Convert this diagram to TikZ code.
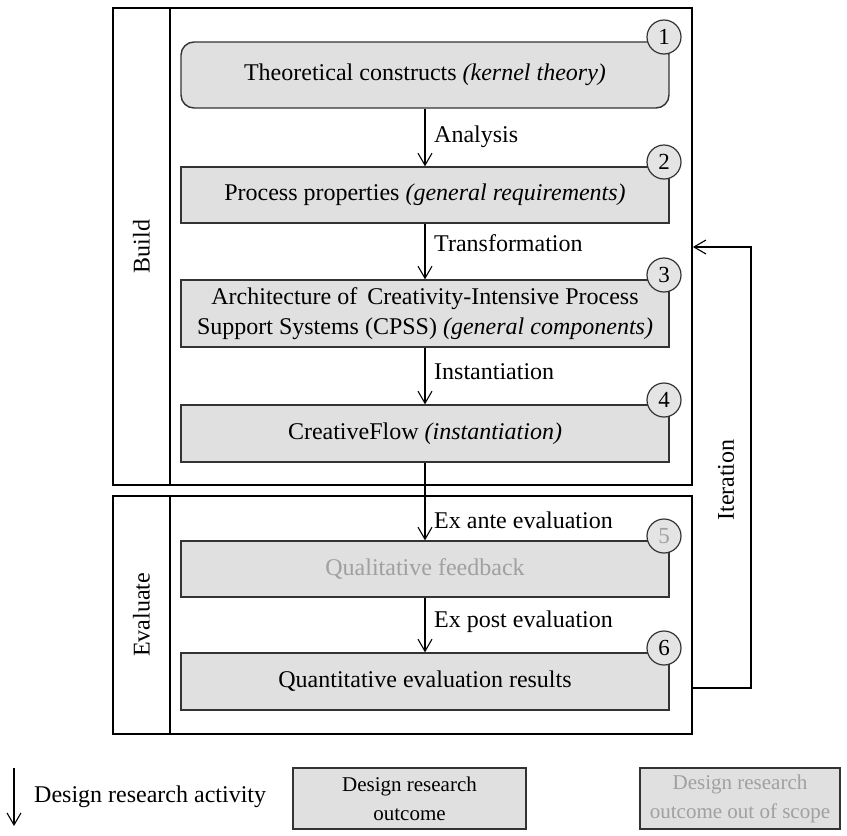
\documentclass[tikz,border=0pt]{standalone}
\usepackage{fontspec}
\setmainfont{Liberation Serif}
\usetikzlibrary{arrows.meta}
\definecolor{boxfill}{HTML}{E0E0E0}
\definecolor{boxline}{HTML}{333333}
\definecolor{fadetext}{HTML}{A0A0A0}
\definecolor{badgefill}{HTML}{E4E4E4}
\begin{document}
\begin{tikzpicture}[x=1pt,y=-1pt,
  every node/.style={font=\fontsize{24}{30}\selectfont, inner sep=0pt},
  frame/.style={draw=black, line width=1.8pt, rectangle},
  outcome/.style={draw=boxline, fill=boxfill, line width=1.4pt, rectangle,
    minimum width=488pt, align=center},
  legendbox/.style={outcome, font=\fontsize{21}{29}\selectfont, minimum height=61pt},
  badge/.style={draw=boxline, fill=badgefill, line width=1.2pt, circle,
    minimum size=34pt, font=\fontsize{23}{28}\selectfont},
  flow/.style={draw=black, line width=1.1pt,
    -{Straight Barb[length=12pt,width=14pt,line width=1.1pt]}},
  steplabel/.style={anchor=west},
  sidelabel/.style={rotate=90}
]
\useasboundingbox (0,0) rectangle (847,836);

% phase frames with their label columns
\node[frame, minimum width=579pt, minimum height=477pt] (build) at (402.5,246.5) {};
\draw[black, line width=1.8pt] (170,8) -- (170,485);
\node[sidelabel] (buildlbl) at (141.5,246.5) {Build};

\node[frame, minimum width=579pt, minimum height=238pt] (eval) at (402.5,615) {};
\draw[black, line width=1.8pt] (170,496) -- (170,734);
\node[sidelabel] (evallbl) at (141.5,615) {Evaluate};

% outcome boxes
\node[outcome, rounded corners=13pt, minimum height=66pt] (b1) at (425,75)
  {Theoretical constructs \textit{(kernel theory)}};
\node[outcome, minimum height=56pt] (b2) at (425,195)
  {Process properties \textit{(general requirements)}};
\node[outcome, minimum height=67pt] (b3) at (425,313.5)
  {Architecture of\, Creativity-Intensive Process\\Support Systems (CPSS) \textit{(general components)}};
\node[outcome, minimum height=57pt] (b4) at (425,433.5)
  {CreativeFlow \textit{(instantiation)}};
\node[outcome, minimum height=56pt, text=fadetext] (b5) at (425,569)
  {Qualitative feedback};
\node[outcome, minimum height=57pt] (b6) at (425,681.5)
  {Quantitative evaluation results};

% numbered badges on the corners
\node[badge] (n1) at (664,37) {1};
\node[badge] (n2) at (664,162) {2};
\node[badge] (n3) at (664,275) {3};
\node[badge] (n4) at (664,400) {4};
\node[badge, text=fadetext] (n5) at (664,536) {5};
\node[badge] (n6) at (664,648) {6};

% design research activities
\draw[flow] (b1) -- (b2);
\draw[flow] (b2) -- (b3);
\draw[flow] (b3) -- (b4);
\draw[flow] (b4) -- (b5);
\draw[flow] (b5) -- (b6);
\node[steplabel] (l1) at (434,137) {Analysis};
\node[steplabel] (l2) at (434,243) {Transformation};
\node[steplabel] (l3) at (434,372) {Instantiation};
\node[steplabel] (l4) at (434,520) {Ex ante evaluation};
\node[steplabel] (l5) at (434,622) {Ex post evaluation};

% iteration loop back to the build phase
\coordinate (itfrom) at (eval.east |- 0,688);
\coordinate (itto) at (build.east |- 0,247);
\draw[flow] (itfrom) -- (751,688) -- (751,247) -- (itto);
\node[sidelabel] (itlbl) at (726,480) {Iteration};

% legend
\coordinate (legtop) at (14,768);
\coordinate (legbot) at (14,826);
\draw[flow] (legtop) -- (legbot);
\node[anchor=west] (legact) at (34,797) {Design research activity};
\node[legendbox, minimum width=233pt] (legout) at (409.5,798.5)
  {Design research\\outcome};
\node[legendbox, minimum width=200pt, text=fadetext] (legscope) at (740,798.5)
  {Design research\\outcome out of scope};
\end{tikzpicture}
\end{document}
